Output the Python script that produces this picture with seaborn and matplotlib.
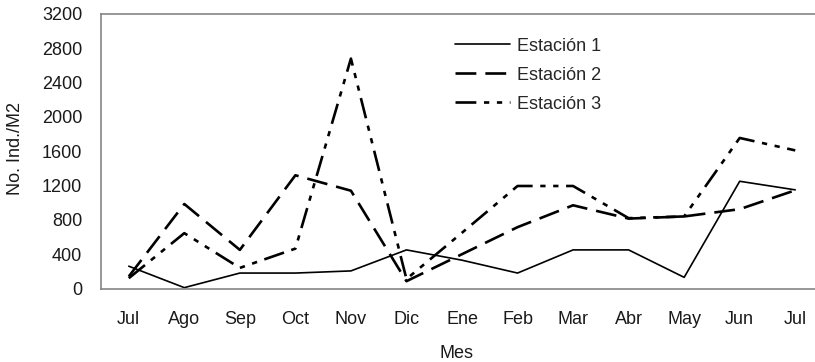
import matplotlib
matplotlib.use("Agg")
import matplotlib.pyplot as plt
import seaborn as sns
import pandas as pd

# Monthly density per sampling station
meses = ["Jul", "Ago", "Sep", "Oct", "Nov", "Dic", "Ene", "Feb", "Mar", "Abr", "May", "Jun", "Jul"]
estacion_1 = [260, 10, 180, 180, 205, 450, 330, 180, 450, 450, 130, 1250, 1150]
estacion_2 = [140, 985, 450, 1320, 1140, 85, 400, 715, 970, 815, 840, 925, 1145]
estacion_3 = [120, 645, 240, 465, 2680, 110, 650, 1195, 1195, 820, 840, 1755, 1610]
y_ticks = [0, 400, 800, 1200, 1600, 2000, 2400, 2800, 3200]

series = {"Estación 1": estacion_1, "Estación 2": estacion_2, "Estación 3": estacion_3}
rows = []
for name, vals in series.items():
    for i, v in enumerate(vals):
        rows.append({"pos": i, "valor": v, "estacion": name})
df = pd.DataFrame(rows)

sns.set_style("white")
plt.rcParams["font.family"] = ["Liberation Sans", "DejaVu Sans"]
plt.rcParams["lines.scale_dashes"] = False

FS = 13
text_color = "#1a1a1a"

fig = plt.figure(figsize=(8.15, 3.62), dpi=100)
ax = fig.add_axes([101 / 815, 1 - 288.5 / 362, 722 / 815, 274.5 / 362])

dashes = {
    "Estación 1": "",
    "Estación 2": (15, 6.5),
    "Estación 3": (15, 5.5, 3.8, 5.5, 3.8, 5.5),
}
sns.lineplot(data=df, x="pos", y="valor", hue="estacion", style="estacion",
             palette=["black"] * 3, dashes=dashes, size="estacion",
             sizes={"Estación 1": 1.2, "Estación 2": 1.9, "Estación 3": 1.9},
             ax=ax, legend=True)

axis_gray = "#858585"
ax.set_xlim(-0.5, len(meses) - 0.5)
ax.set_ylim(0, 3200)
ax.set_yticks(y_ticks)
ax.set_yticklabels([str(t) for t in y_ticks])

# tick marks between months, labels centred on each month
ax.set_xticks([i - 0.5 for i in range(len(meses) + 1)])
ax.set_xticklabels([])
ax.set_xticks(range(len(meses)), minor=True)
ax.set_xticklabels(meses, minor=True)
ax.tick_params(axis="x", which="major", direction="out", length=5, width=1, color=axis_gray)
ax.tick_params(axis="x", which="minor", length=0, pad=16, labelsize=FS, labelcolor=text_color)
ax.tick_params(axis="y", direction="inout", length=7, width=1, color=axis_gray,
               pad=10, labelsize=FS, labelcolor=text_color)

for side in ["left", "bottom", "top"]:
    ax.spines[side].set_visible(True)
    ax.spines[side].set_color(axis_gray)
    ax.spines[side].set_linewidth(1.2)
ax.spines["right"].set_visible(False)
ax.grid(False)

ax.set_xlabel("Mes", fontsize=FS, color=text_color)
ax.set_ylabel("No. Ind./M2", fontsize=FS, color=text_color)
ax.xaxis.set_label_coords(0.493, -0.207)
ax.yaxis.set_label_coords(-0.106, 0.51)

handles, labels = ax.get_legend_handles_labels()
ax.legend(handles, labels, loc="upper left", bbox_to_anchor=(0.49, 0.914),
          frameon=False, fontsize=FS, handlelength=3.05, handletextpad=0.4,
          labelspacing=0.67, borderpad=0, borderaxespad=0)

fig.savefig("out.png", dpi=100)
